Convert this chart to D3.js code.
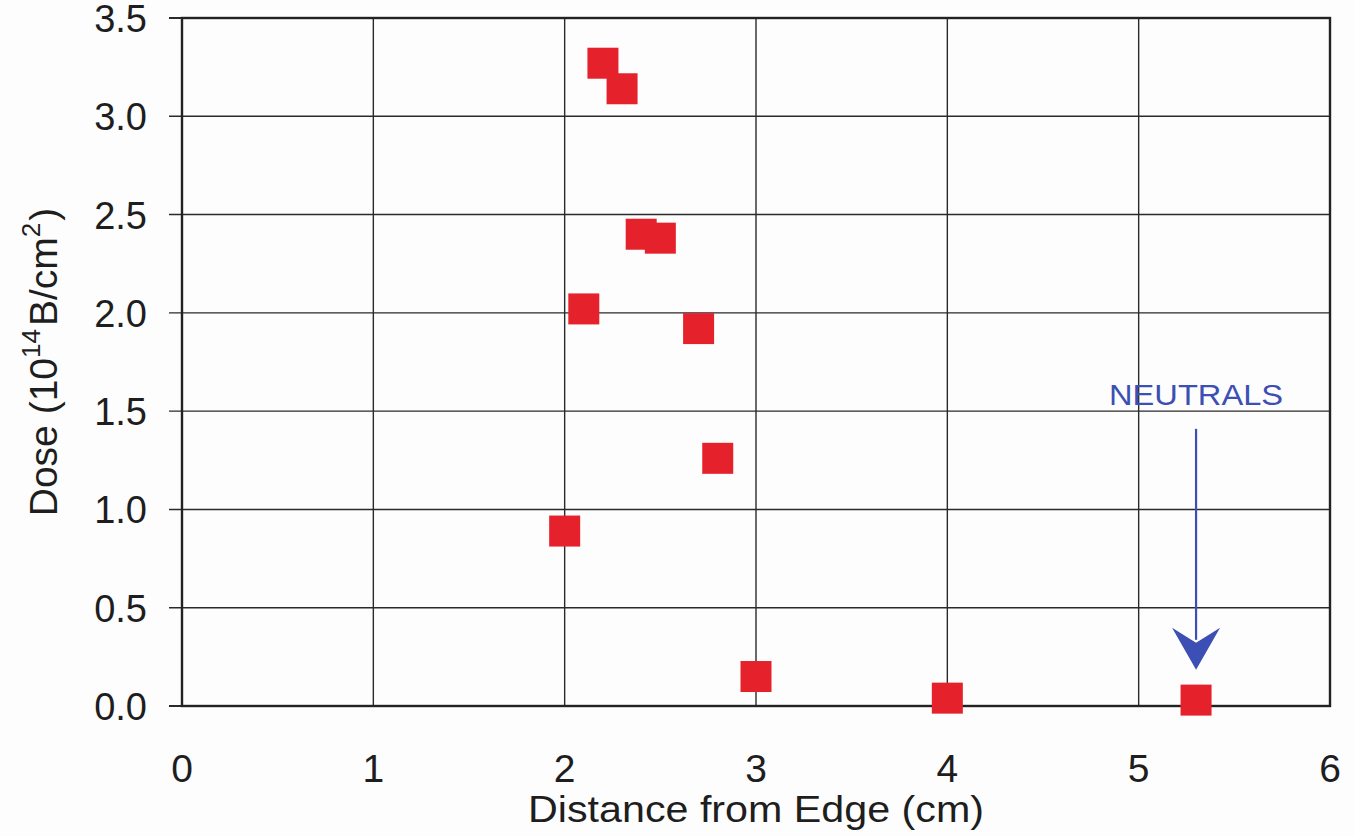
<!DOCTYPE html>
<html>
<head>
<meta charset="utf-8">
<script src="https://cdn.jsdelivr.net/npm/d3@7"></script>
<style>
  html, body { margin: 0; padding: 0; background: #fdfdfd; }
  svg { display: block; font-family: "Liberation Sans", Arial, sans-serif; }
</style>
</head>
<body>
<svg id="chart" width="1354" height="836"></svg>
<script>
// Implant dose measured at several distances from the wafer edge
const distance = [2.0, 2.1, 2.2, 2.3, 2.4, 2.5, 2.7, 2.8, 3.0, 4.0, 5.3];
const dose     = [0.89, 2.02, 3.27, 3.14, 2.40, 2.38, 1.92, 1.26, 0.15, 0.04, 0.03];

const xTicks = [0, 1, 2, 3, 4, 5, 6];
const yTicks = [0, 0.5, 1.0, 1.5, 2.0, 2.5, 3.0, 3.5];

// Annotation: label and arrow pointing at the neutrals point
const noteLabel = "NEUTRALS";
const noteX = 5.3;
const noteTextY = 1.53;
const noteArrowFrom = 1.41;
const noteArrowTo = 0.184;

const margin = { left: 182, right: 24, top: 18, bottom: 130 };
const W = 1354, H = 836;

const svg = d3.select("#chart");

const x = d3.scaleLinear().domain([0, 6]).range([margin.left, W - margin.right]);
const y = d3.scaleLinear().domain([0, 3.5]).range([H - margin.bottom, margin.top]);

const gridColor = "#2a2a2a";
const textColor = "#1e1e1e";

// vertical grid lines
svg.append("g")
  .selectAll("line")
  .data(xTicks.slice(1, -1))
  .join("line")
  .attr("x1", d => x(d)).attr("x2", d => x(d))
  .attr("y1", y(3.5)).attr("y2", y(0))
  .attr("stroke", gridColor).attr("stroke-width", 1.4);

// horizontal grid lines with short ticks outside the left edge
svg.append("g")
  .selectAll("line")
  .data(yTicks.slice(1, -1))
  .join("line")
  .attr("x1", x(0) - 13).attr("x2", x(6))
  .attr("y1", d => y(d)).attr("y2", d => y(d))
  .attr("stroke", gridColor).attr("stroke-width", 1.4);

// outer ticks for the top and bottom values
svg.append("g")
  .selectAll("line")
  .data([yTicks[0], yTicks[yTicks.length - 1]])
  .join("line")
  .attr("x1", x(0) - 13).attr("x2", x(0))
  .attr("y1", d => y(d)).attr("y2", d => y(d))
  .attr("stroke", gridColor).attr("stroke-width", 2);

// plot frame
svg.append("rect")
  .attr("x", x(0)).attr("y", y(3.5))
  .attr("width", x(6) - x(0)).attr("height", y(0) - y(3.5))
  .attr("fill", "none")
  .attr("stroke", "#222").attr("stroke-width", 2.4);

// y tick labels
svg.append("g")
  .selectAll("text")
  .data(yTicks)
  .join("text")
  .attr("x", 147)
  .attr("y", d => y(d) + 14)
  .attr("text-anchor", "end")
  .attr("font-size", 38)
  .attr("fill", textColor)
  .text(d => d.toFixed(1));

// x tick labels
svg.append("g")
  .selectAll("text")
  .data(xTicks)
  .join("text")
  .attr("x", d => x(d))
  .attr("y", 782)
  .attr("text-anchor", "middle")
  .attr("font-size", 39)
  .attr("fill", textColor)
  .text(d => d);

// x axis title
svg.append("text")
  .attr("x", (x(0) + x(6)) / 2)
  .attr("y", 822)
  .attr("text-anchor", "middle")
  .attr("font-size", 36)
  .attr("fill", textColor)
  .attr("textLength", 456)
  .attr("lengthAdjust", "spacingAndGlyphs")
  .text("Distance from Edge (cm)");

// y axis title with superscripts
const yTitle = svg.append("text")
  .attr("transform", `translate(57, ${(y(0) + y(3.5)) / 2}) rotate(-90)`)
  .attr("text-anchor", "middle")
  .attr("font-size", 39)
  .attr("fill", textColor);
yTitle.append("tspan").text("Dose (10");
yTitle.append("tspan").attr("font-size", 26).attr("dy", -17).text("14");
yTitle.append("tspan").attr("dy", 17).attr("dx", 3).text("B/cm");
yTitle.append("tspan").attr("font-size", 26).attr("dy", -17).text("2");
yTitle.append("tspan").attr("dy", 17).attr("dx", 2).text(")");

// data markers
const size = 31;
svg.append("g")
  .selectAll("rect")
  .data(distance.map((d, i) => [d, dose[i]]))
  .join("rect")
  .attr("x", d => x(d[0]) - size / 2)
  .attr("y", d => y(d[1]) - size / 2)
  .attr("width", size).attr("height", size)
  .attr("fill", "#e5222b");

// annotation
const blue = "#3b4fb4";
svg.append("text")
  .attr("x", x(noteX))
  .attr("y", y(noteTextY))
  .attr("text-anchor", "middle")
  .attr("font-size", 30)
  .attr("fill", blue)
  .attr("textLength", 174)
  .attr("lengthAdjust", "spacingAndGlyphs")
  .text(noteLabel);

const ax = x(noteX);
const tipY = y(noteArrowTo);
svg.append("line")
  .attr("x1", ax).attr("x2", ax)
  .attr("y1", y(noteArrowFrom)).attr("y2", tipY - 30)
  .attr("stroke", blue).attr("stroke-width", 2.2);
svg.append("path")
  .attr("d", `M${ax},${tipY} L${ax - 24},${tipY - 42} L${ax},${tipY - 27} L${ax + 24},${tipY - 42} Z`)
  .attr("fill", blue);
</script>
</body>
</html>
